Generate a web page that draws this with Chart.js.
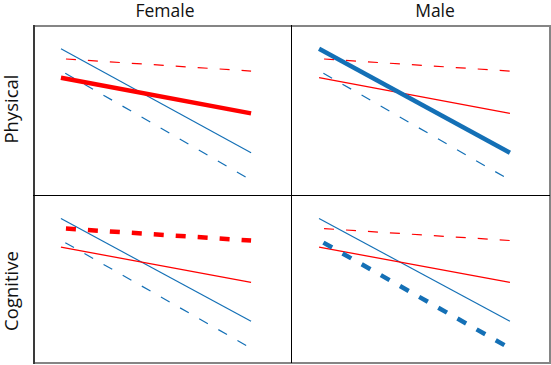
<!DOCTYPE html>
<html>
<head>
<meta charset="utf-8">
<script src="https://cdn.jsdelivr.net/npm/chart.js@4/dist/chart.umd.min.js"></script>
<style>
  body { margin: 0; background: #fff; width: 551px; height: 365px; position: relative; overflow: hidden; font-family: 'Open Sans', sans-serif; }
  .panel { position: absolute; }
  .colLabel { position: absolute; top: -2px; font-size: 17.5px; color: #111; transform: translateX(-50%); white-space: nowrap; }
  .rowLabel { position: absolute; left: 10px; font-size: 18.5px; color: #111; transform: translate(-50%, -50%) rotate(-90deg); white-space: nowrap; }
  .line { position: absolute; }
</style>
</head>
<body>
<div class="colLabel" style="left:165px">Female</div>
<div class="colLabel" style="left:435px">Male</div>
<div class="rowLabel" style="top:109px">Physical</div>
<div class="rowLabel" style="top:291px">Cognitive</div>

<canvas id="c0" class="panel" width="258" height="170" style="left:33px;top:25px"></canvas>
<canvas id="c1" class="panel" width="259" height="170" style="left:291px;top:25px"></canvas>
<canvas id="c2" class="panel" width="258" height="168" style="left:33px;top:195px"></canvas>
<canvas id="c3" class="panel" width="259" height="168" style="left:291px;top:195px"></canvas>

<!-- frame -->
<div class="line" style="left:33px;top:25px;width:517px;height:2px;background:#858585"></div>
<div class="line" style="left:33px;top:362px;width:517px;height:2px;background:#858585"></div>
<div class="line" style="left:33px;top:25px;width:2px;height:339px;background:#3a3a3a"></div>
<div class="line" style="left:549px;top:25px;width:1.5px;height:339px;background:#858585"></div>
<div class="line" style="left:291px;top:25px;width:1px;height:338px;background:#000"></div>
<div class="line" style="left:33px;top:195px;width:517px;height:1px;background:#000"></div>

<script>
'use strict'

var xLevels = [0, 1];
var columns = ['Female', 'Male'];
var rows = ['Physical', 'Cognitive'];

// same four lines in every panel
var redDashed  = [80.2, 72.9];
var redSolid   = [69.0, 48.0];
var blueSolid  = [86.0, 24.9];
var blueDashed = [73.1, 8.8];

// which line is drawn thick in each panel (Female/Physical, Male/Physical, Female/Cognitive, Male/Cognitive)
var highlighted = ['redSolid', 'blueSolid', 'redDashed', 'blueDashed'];

var RED = '#ff0000';
var BLUE = '#1470b6';

function pts(vals) {
    return xLevels.map(function(x, i) { return {x: x, y: vals[i]}; });
}

function makeSet(key, vals, color, dashed, thick) {
    return {
        label: key,
        data: pts(vals),
        borderColor: color,
        borderWidth: thick ? 4.5 : 1.2,
        borderDash: dashed ? [10, 12] : [],
        borderDashOffset: dashed ? 17 : 0,
        borderCapStyle: 'butt',
        pointRadius: 0,
        tension: 0,
        fill: false,
        order: thick ? 0 : 1
    };
}

for (var p = 0; p < 4; p++) {
    var hl = highlighted[p];
    var ctx = document.getElementById('c' + p).getContext('2d');
    new Chart(ctx, {
        type: 'line',
        data: {
            datasets: [
                makeSet('redDashed', redDashed, RED, true, hl == 'redDashed'),
                makeSet('redSolid', redSolid, RED, false, hl == 'redSolid'),
                makeSet('blueSolid', blueSolid, BLUE, false, hl == 'blueSolid'),
                makeSet('blueDashed', blueDashed, BLUE, true, hl == 'blueDashed')
            ]
        },
        options: {
            responsive: false,
            animation: false,
            devicePixelRatio: 1,
            layout: { padding: 0 },
            plugins: { legend: { display: false }, tooltip: { enabled: false }, title: { display: false } },
            scales: {
                x: { type: 'linear', min: -0.147, max: 1.21, display: false },
                y: { type: 'linear', min: 0, max: 100, display: false }
            }
        }
    });
}
</script>
</body>
</html>
